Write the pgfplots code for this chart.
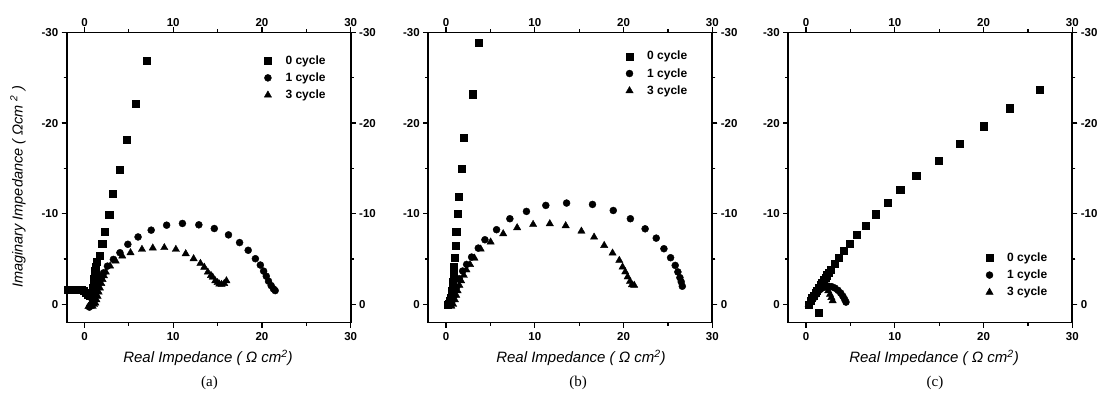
\documentclass[border=0pt]{standalone}
\usepackage{pgfplots}
\pgfplotsset{compat=1.18}
\usepackage{fontspec}
\setmainfont{Liberation Sans}
\newfontfamily\capfont{Liberation Serif}

\pgfplotsset{
  eisbase/.style={
    scale only axis, width=284pt, height=290pt,
    xmin=-2, xmax=30, ymin=-30, ymax=2, y dir=reverse,
    xtick={0,10,20,30}, minor xtick={5,15,25},
    ytick={-30,-20,-10,0}, minor ytick={-25,-15,-5},
    tick align=outside,
    major tick length=5pt, minor tick length=3pt,
    axis line style={line width=1.8pt},
    tick style={line width=1.3pt, black},
    tick label style={font=\bfseries\fontsize{11.5}{13}\selectfont},
    /pgf/number format/assume math mode=true,
  },
  eisover/.style={eisbase, xticklabel pos=right, yticklabel pos=right,
    xticklabel style={yshift=-2.5pt}},
  sq/.style={only marks, mark=square*, mark size=3.6pt, black},
  ci/.style={only marks, mark=*, mark size=3.5pt, black},
  tr/.style={only marks, mark=triangle*, mark size=4.2pt, black},
  eisleg/.style={
    legend style={draw=none, fill=none, font=\bfseries\fontsize{12}{14}\selectfont,
      row sep=3pt, column sep=12pt, inner sep=0pt, at={#1}, anchor=north west},
    legend cell align=left,
  },
}

\begin{document}
\begin{tikzpicture}
\useasboundingbox (0,0) rectangle (1105pt,396pt);

% ---------------- (a) ----------------
\begin{axis}[eisbase, xticklabel style={yshift=-1.5pt}, anchor=south west, at={(66.7pt,73.5pt)}, eisleg={(axis description cs:0.695,0.928)}]
\addplot[sq] coordinates {(-1.85,-1.65) (-1.55,-1.65) (-1.25,-1.65) (-0.95,-1.65) (-0.65,-1.62) (-0.35,-1.6) (-0.05,-1.5) (0.2,-1.3) (0.4,-1.05) (0.6,-0.95) (0.8,-1.0) (0.9,-1.3) (0.95,-1.8) (1.0,-2.3) (1.05,-2.8) (1.12,-3.3) (1.2,-3.75) (1.3,-4.2) (1.42,-4.7) (1.7,-5.41) (2.0,-6.70) (2.30,-8.04) (2.78,-9.89) (3.22,-12.2) (3.93,-14.9) (4.74,-18.19) (5.78,-22.1) (7.04,-26.93)};
\addlegendentry{0 cycle}
\addplot[ci] coordinates {(0.56,0.3) (0.74,0.04) (0.9,-0.4) (1.11,-0.89) (1.25,-1.35) (1.41,-1.81) (1.58,-2.3) (1.78,-2.74) (1.95,-3.1) (2.15,-3.48) (2.59,-4.22) (3.26,-4.96) (4.0,-5.70) (4.89,-6.63) (6.04,-7.44) (7.52,-8.19) (9.26,-8.74) (11.04,-8.93) (12.89,-8.78) (14.63,-8.37) (16.23,-7.67) (17.48,-6.82) (18.45,-5.97) (19.26,-5.04) (19.82,-4.34) (20.19,-3.67) (20.49,-3.11) (20.74,-2.56) (21.04,-2.07) (21.30,-1.71) (21.49,-1.52)};
\addlegendentry{1 cycle}
\addplot[tr] coordinates {(0.45,0.25) (0.7,0.25) (0.93,0.22) (1.08,0.0) (1.22,-0.15) (1.35,-0.5) (1.48,-0.89) (1.6,-1.35) (1.74,-1.81) (1.9,-2.3) (2.04,-2.74) (2.2,-3.15) (2.41,-3.56) (2.89,-4.22) (3.52,-4.78) (4.26,-5.33) (5.19,-5.70) (6.48,-6.07) (7.70,-6.22) (9.0,-6.26) (10.30,-6.07) (11.41,-5.59) (12.30,-5.04) (13.07,-4.52) (13.5,-4.1) (13.9,-3.56) (14.26,-3.19) (14.45,-3.0) (14.74,-2.6) (15.0,-2.4) (15.2,-2.25) (15.45,-2.2) (15.75,-2.3) (16.0,-2.6)};
\addlegendentry{3 cycle}
\end{axis}
\begin{axis}[eisover, anchor=south west, at={(66.7pt,73.5pt)}]
\end{axis}

% ---------------- (b) ----------------
\begin{axis}[eisbase, xticklabel style={yshift=-1.5pt}, anchor=south west, at={(428.3pt,73.5pt)}, eisleg={(axis description cs:0.695,0.943)}]
\addplot[sq] coordinates {(0.15,0.0) (0.3,-0.1) (0.45,-0.44) (0.55,-0.75) (0.64,-1.0) (0.7,-1.45) (0.75,-1.9) (0.78,-2.45) (0.82,-3.0) (0.86,-3.55) (0.9,-4.1) (0.97,-5.15) (1.05,-6.45) (1.15,-8.0) (1.3,-10.0) (1.43,-11.9) (1.74,-15.0) (2.0,-18.4) (3.02,-23.2) (3.70,-28.9)};
\addlegendentry{0 cycle}
\addplot[ci] coordinates {(0.45,-0.07) (0.71,-0.44) (0.94,-0.99) (1.2,-1.91) (1.5,-2.83) (1.87,-3.68) (2.32,-4.41) (2.88,-5.22) (3.63,-6.21) (4.38,-7.13) (5.69,-8.24) (7.19,-9.45) (9.06,-10.26) (11.24,-10.92) (13.58,-11.18) (16.5,-11.03) (18.84,-10.36) (20.77,-9.45) (22.43,-8.34) (23.68,-7.31) (24.55,-6.14) (25.3,-5.15) (25.82,-4.3) (26.12,-3.58) (26.35,-2.95) (26.5,-2.48) (26.62,-2.0)};
\addlegendentry{1 cycle}
\addplot[tr] coordinates {(0.6,0.2) (0.8,0.0) (1.0,-0.5) (1.15,-1.0) (1.3,-1.5) (1.5,-2.1) (1.7,-2.6) (2.0,-3.2) (2.3,-3.8) (2.7,-4.4) (3.2,-5.1) (3.9,-6.1) (5.02,-6.88) (6.44,-7.79) (8.01,-8.46) (9.81,-8.82) (11.69,-8.9) (13.48,-8.68) (15.25,-8.08) (16.68,-7.42) (17.82,-6.5) (18.76,-5.66) (19.52,-4.85) (19.89,-4.12) (20.19,-3.58) (20.46,-3.03) (20.72,-2.53) (20.95,-2.17) (21.2,-2.1)};
\addlegendentry{3 cycle}
\end{axis}
\begin{axis}[eisover, anchor=south west, at={(428.3pt,73.5pt)}]
\end{axis}

% ---------------- (c) ----------------
\begin{axis}[eisbase, xticklabel style={yshift=-1.5pt}, anchor=south west, at={(788.3pt,73.5pt)}, eisleg={(axis description cs:0.695,0.248)}]
\addplot[sq] coordinates {(1.39,0.96) (0.26,0) (0.49,-0.44) (0.67,-0.72) (0.86,-1.0) (1.05,-1.28) (1.24,-1.55) (1.43,-1.83) (1.62,-2.11) (1.8,-2.38) (1.99,-2.66) (2.18,-2.93) (2.37,-3.21) (2.55,-3.52) (2.74,-3.84) (3.2,-4.51) (3.68,-5.17) (4.25,-5.91) (4.89,-6.72) (5.75,-7.65) (6.73,-8.72) (7.86,-9.94) (9.21,-11.23) (10.6,-12.63) (12.41,-14.19) (14.92,-15.85) (17.33,-17.73) (20.04,-19.65) (22.97,-21.65) (26.32,-23.72)};
\addlegendentry{0 cycle}
\addplot[ci] coordinates {(0.3,0.1) (0.5,-0.2) (0.7,-0.5) (0.9,-0.8) (1.1,-1.1) (1.35,-1.4) (1.6,-1.65) (1.9,-1.85) (2.2,-1.95) (2.55,-2.0) (2.9,-1.95) (3.25,-1.8) (3.6,-1.55) (3.9,-1.25) (4.15,-0.9) (4.35,-0.55) (4.5,-0.25)};
\addlegendentry{1 cycle}
\addplot[tr] coordinates {(0.3,0.0) (0.5,-0.35) (0.75,-0.7) (1.0,-1.05) (1.25,-1.4) (1.5,-1.7) (1.75,-1.9) (2.0,-1.95) (2.25,-1.8) (2.5,-1.5) (2.7,-1.1) (2.85,-0.75) (3.0,-0.4)};
\addlegendentry{3 cycle}
\end{axis}
\begin{axis}[eisover, anchor=south west, at={(788.3pt,73.5pt)}]
\end{axis}

% ---------------- labels ----------------
\node[rotate=90, font=\itshape\fontsize{14.5}{16}\selectfont] at (18pt,209pt) {Imaginary Impedance ( Ωcm \textsuperscript{2} )};
\node[font=\itshape\fontsize{15}{17}\selectfont] at (208pt,38pt) {Real Impedance ( Ω cm\textsuperscript{2})};
\node[font=\itshape\fontsize{15}{17}\selectfont] at (581pt,38pt) {Real Impedance ( Ω cm\textsuperscript{2})};
\node[font=\itshape\fontsize{15}{17}\selectfont] at (934pt,38pt) {Real Impedance ( Ω cm\textsuperscript{2})};
\node[font=\capfont\fontsize{15}{17}\selectfont] at (209.5pt,13pt) {(a)};
\node[font=\capfont\fontsize{15}{17}\selectfont] at (578pt,13pt) {(b)};
\node[font=\capfont\fontsize{15}{17}\selectfont] at (935pt,13pt) {(c)};
\end{tikzpicture}
\end{document}
